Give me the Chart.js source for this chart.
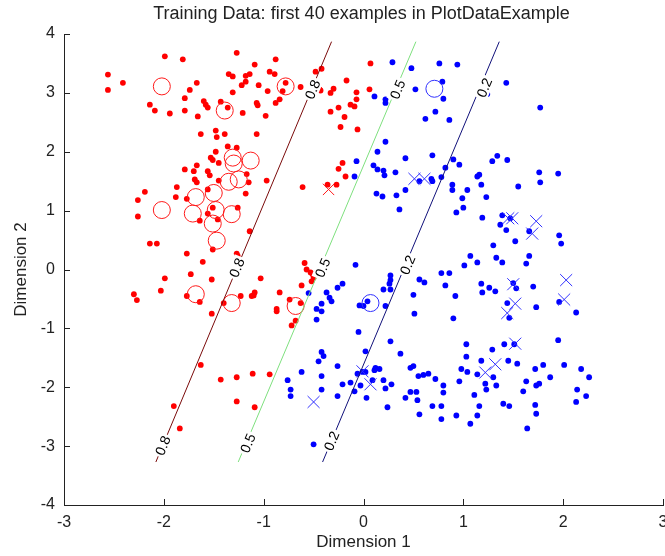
<!DOCTYPE html>
<html>
<head>
<meta charset="utf-8">
<title>Training Data</title>
<script src="https://cdn.jsdelivr.net/npm/chart.js@4.4.1/dist/chart.umd.min.js"></script>
<style>
    body { margin: 0; background: #fff; overflow: hidden; }
    #wrap { width: 680px; height: 556px; }
</style>
</head>
<body>
<div id="wrap"><canvas id="trainingChart" width="680" height="556"></canvas></div>
<script>
// Tick values on both axes
const xTicks = [-3, -2, -1, 0, 1, 2, 3];
const yTicks = [-4, -3, -2, -1, 0, 1, 2, 3, 4];

// Whole data set, class 1 (red dots)
const redDots = [
    [-1.99, 3.62], [-1.81, 3.57], [-2.56, 3.31], [-2.41, 3.17], [-2.56, 3.05], [-1.67, 3.17], [-1.74, 3.05],
    [-1.79, 2.91], [-1.60, 2.86], [-1.58, 2.80], [-1.56, 2.75], [-1.43, 2.85], [-2.14, 2.80], [-2.09, 2.70],
    [-1.94, 2.65], [-1.79, 2.70], [-1.66, 2.60], [-1.63, 2.30], [-1.48, 2.36], [-1.47, 2.25], [-1.39, 2.30],
    [-1.48, 2.00], [-1.53, 1.90], [-1.51, 1.86], [-1.45, 1.81], [-1.36, 2.09], [-1.67, 1.77], [-1.79, 1.70],
    [-1.70, 1.67], [-1.56, 1.67], [-1.54, 1.60], [-1.69, 1.53], [-1.67, 1.48], [-1.45, 1.51], [-1.87, 1.40],
    [-1.88, 1.23], [-2.19, 1.32], [-2.26, 1.18], [-2.26, 0.90], [-1.77, 1.20], [-1.56, 1.36], [-1.51, 1.05],
    [-1.56, 0.95], [-1.64, 0.83], [-1.46, 0.85], [-2.14, 0.44], [-2.07, 0.44], [-1.51, 0.34], [-1.77, 0.27],
    [-1.27, 3.68], [-0.88, 3.57], [-1.09, 3.48], [-1.35, 3.32], [-1.31, 3.28], [-1.18, 3.29], [-1.14, 3.32],
    [-0.94, 3.36], [-0.89, 3.32], [-1.18, 3.19], [-1.22, 3.13], [-1.05, 3.13], [-1.31, 3.01], [-0.96, 3.03],
    [-0.81, 3.03], [-0.78, 3.17], [-0.84, 2.89], [-0.88, 2.83], [-1.07, 2.83], [-1.06, 2.79], [-0.63, 3.10],
    [-0.48, 3.36], [-0.42, 3.41], [-0.44, 3.06], [-1.36, 2.75], [-1.21, 2.66], [-0.98, 2.61], [-1.07, 2.30],
    [-1.27, 2.07], [-1.17, 1.62], [-1.15, 1.48], [-0.97, 1.51], [-1.18, 1.29], [-1.26, 1.05], [-1.14, 0.65],
    [-1.27, 0.27], [-0.17, 3.21], [-0.30, 3.07], [-0.33, 3.00], [-0.07, 3.01], [-0.07, 2.89], [-0.13, 2.80],
    [-0.09, 2.77], [-0.25, 2.75], [-0.33, 2.68], [-0.19, 2.59], [-0.23, 2.42], [-0.06, 2.38], [-0.21, 1.81],
    [-0.25, 1.71], [-0.18, 1.58], [-0.36, 1.44], [-0.27, 1.44], [-0.61, 1.40], [-0.43, 3.04], [0.07, 3.50],
    [0.06, 3.06], [-1.61, 0.13], [-1.99, -0.15], [-1.73, -0.08], [-1.52, -0.17], [-2.30, -0.42], [-2.27, -0.52],
    [-2.03, -0.36], [-1.77, -0.45], [-1.64, -0.55], [-1.52, -0.75], [-1.40, -0.57], [-1.63, -1.62], [-1.43, -1.87],
    [-1.90, -2.32], [-1.84, -2.70], [-1.26, 0.23], [-1.03, -0.15], [-1.12, -0.45], [-1.10, -0.44], [-1.09, -0.39],
    [-1.23, -0.45], [-0.84, -0.39], [-0.87, -0.67], [-0.87, -0.71], [-0.74, -0.51], [-0.63, -0.57], [-0.62, -0.27],
    [-0.68, -0.87], [-0.72, -0.95], [-0.59, 0.11], [-0.57, 0.00], [-0.53, -0.05], [-0.51, -0.08], [-0.50, -0.14],
    [-0.52, -0.20], [-1.27, -1.83], [-1.11, -1.77], [-0.94, -1.78], [-1.27, -2.24], [-1.09, -2.34]
];

// Whole data set, class 2 (blue dots)
const blueDots = [
    [0.29, 3.52], [0.48, 3.42], [0.76, 3.50], [0.94, 3.48], [0.52, 3.06], [0.79, 3.19], [0.80, 2.90],
    [0.11, 2.94], [0.22, 2.89], [0.22, 2.83], [0.30, 2.94], [0.72, 2.68], [0.62, 2.56], [0.86, 2.54],
    [0.22, 2.17], [0.14, 2.00], [-0.07, 1.84], [0.42, 1.89], [0.69, 1.94], [0.10, 1.77], [0.14, 1.70],
    [0.20, 1.68], [0.21, 1.60], [0.32, 1.65], [-0.09, 1.58], [0.56, 1.50], [0.68, 1.54], [0.69, 1.50],
    [0.78, 1.57], [0.82, 1.73], [0.90, 1.87], [0.96, 1.78], [0.42, 1.35], [0.89, 1.44], [0.89, 1.35],
    [1.04, 1.35], [1.14, 1.58], [0.13, 1.29], [0.19, 1.24], [0.33, 1.26], [0.36, 1.02], [0.99, 1.21],
    [1.00, 1.05], [0.93, 0.97], [1.43, 3.17], [1.24, 2.98], [1.77, 2.75], [1.34, 1.93], [1.29, 1.84],
    [1.44, 1.86], [1.16, 1.61], [1.18, 1.44], [1.23, 1.23], [1.55, 1.41], [1.76, 1.65], [1.95, 1.63],
    [1.77, 1.48], [1.19, 0.88], [1.39, 0.92], [1.37, 0.76], [1.43, 0.67], [1.47, 0.87], [1.66, 0.65],
    [1.52, 0.48], [1.30, 0.41], [1.96, 0.58], [1.98, 0.44], [-0.08, 0.08], [0.27, -0.10], [0.27, -0.18],
    [0.26, -0.24], [0.20, -0.34], [0.27, -0.34], [-0.04, -0.61], [0.00, -0.62], [0.04, -0.54], [0.22, -0.62],
    [0.50, -0.43], [0.51, -0.75], [0.56, -0.17], [0.61, -0.22], [0.78, -0.06], [0.86, -0.06], [0.82, -0.27],
    [0.92, -0.45], [0.90, -0.83], [1.01, 0.07], [1.07, 0.23], [1.14, 0.12], [-0.05, -1.06], [0.27, -1.22],
    [0.02, -1.39], [0.37, -1.43], [0.12, -1.67], [0.16, -1.69], [0.11, -1.71], [-0.01, -1.74], [0.02, -1.74],
    [0.47, -1.67], [0.50, -1.64], [0.55, -1.81], [0.60, -1.79], [0.65, -1.77], [0.72, -1.86], [0.20, -1.88],
    [0.09, -1.88], [0.28, -1.95], [0.22, -2.02], [-0.03, -1.97], [-0.09, -2.07], [0.03, -2.18], [0.80, -1.97],
    [0.80, -2.09], [0.47, -2.08], [0.53, -2.08], [0.54, -2.22], [0.42, -2.18], [0.69, -2.32], [0.78, -2.32],
    [0.24, -2.34], [0.56, -2.46], [0.78, -2.54], [0.93, -2.48], [1.07, -2.62], [1.14, -2.48], [1.11, -2.13],
    [0.96, -1.90], [0.98, -1.69], [1.04, -1.74], [1.03, -1.27], [1.03, -1.48], [1.14, -1.78], [1.33, 0.20],
    [1.39, 0.12], [1.66, 0.23], [1.63, 0.10], [1.18, -0.24], [1.19, -0.39], [1.26, -0.31], [1.32, -0.37],
    [1.50, -0.23], [1.53, -0.32], [1.70, -0.29], [1.44, -0.57], [1.46, -0.82], [1.73, -0.64], [1.96, -0.55],
    [2.13, -0.73], [1.95, -1.20], [1.29, -1.36], [1.41, -1.27], [1.51, -1.27], [1.18, -1.55], [1.45, -1.55],
    [1.54, -1.60], [1.30, -1.83], [1.22, -1.94], [1.23, -2.04], [1.33, -1.97], [1.72, -1.69], [1.80, -1.62],
    [2.01, -1.62], [1.63, -1.90], [1.73, -1.97], [1.76, -1.94], [1.60, -2.07], [1.87, -1.83], [2.18, -1.69],
    [2.26, -1.83], [2.14, -2.04], [2.23, -2.15], [2.13, -2.25], [1.16, -2.32], [1.40, -2.28], [1.46, -2.32],
    [1.72, -2.30], [1.73, -2.45], [1.64, -2.70], [-0.55, -0.40], [-0.37, -0.39], [-0.34, -0.48], [-0.32, -0.54],
    [-0.26, -0.31], [-0.21, -0.24], [-0.42, -0.58], [-0.47, -0.67], [-0.42, -0.71], [-0.47, -0.85], [-0.42, -1.40],
    [-0.40, -1.47], [-0.45, -1.56], [-0.26, -1.64], [-0.62, -1.74], [-0.42, -1.81], [-0.76, -1.88], [-0.73, -2.04],
    [-0.73, -2.15], [-0.42, -2.04], [-0.21, -1.95], [-0.13, -1.92], [-0.06, -1.77], [-0.26, -2.15], [-0.50, -2.97]
];

// First 40 examples: circles and crosses
const redCircles = [
    [-2.02, 3.11], [-1.39, 2.70], [-0.78, 3.11], [-1.31, 1.90], [-1.30, 1.80], [-1.13, 1.85], [-1.35, 1.49],
    [-1.25, 1.53], [-1.68, 1.23], [-1.50, 1.30], [-2.02, 1.01], [-1.71, 0.95], [-1.48, 1.01], [-1.32, 0.94],
    [-1.51, 0.78], [-1.47, 0.49], [-1.68, -0.42], [-1.32, -0.57], [-0.68, -0.62]
];
const redCrosses = [[-0.35, 1.36]];
const blueCircles = [[0.71, 3.07], [0.07, -0.57]];
const blueCrosses = [
    [0.51, 1.54], [0.61, 1.54], [-0.50, -2.25], [-0.01, -1.73], [0.07, -1.95], [1.50, -0.25], [1.52, -0.58],
    [1.44, -0.74], [2.03, -0.18], [2.01, -0.51], [1.52, -1.26], [1.32, -1.61], [1.22, -1.75], [1.45, 0.87],
    [1.49, 0.87], [1.73, 0.82], [1.69, 0.61]
];

// Probability contours (level, start, end) and where their labels sit
const contourLevels = ['0.8', '0.5', '0.2'];
const contourStarts = [[-2.08, -3.27], [-1.255, -3.27], [-0.41, -3.27]];
const contourEnds = [[-0.32, 3.87], [0.525, 3.87], [1.36, 3.87]];
const labelLevels = ['0.8', '0.8', '0.8', '0.5', '0.5', '0.5', '0.2', '0.2', '0.2'];
const labelX = [-0.51, -1.27, -2.01, 0.34, -0.41, -1.16, 1.21, 0.44, -0.32];
const labelY = [3.06, 0.03, -2.99, 3.06, 0.03, -2.95, 3.09, 0.08, -2.91];

const chartTitle = 'Training Data: first 40 examples in PlotDataExample';
const FONT = '"Liberation Sans", Arial, Helvetica, sans-serif';
const toPoints = arr => arr.map(p => ({ x: p[0], y: p[1] }));

// MATLAB style ticks that point into the axes, and the title centred over the axes
const axesDecor = {
    id: 'axesDecor',
    afterDraw(chart) {
        const { ctx, chartArea, scales } = chart;
        ctx.save();
        ctx.strokeStyle = '#222';
        ctx.lineWidth = 1;
        ctx.beginPath();
        xTicks.forEach(v => {
            const px = Math.round(scales.x.getPixelForValue(v)) + 0.5;
            ctx.moveTo(px, chartArea.bottom);
            ctx.lineTo(px, chartArea.bottom - 6);
        });
        yTicks.forEach(v => {
            const py = Math.round(scales.y.getPixelForValue(v)) + 0.5;
            ctx.moveTo(chartArea.left, py);
            ctx.lineTo(chartArea.left + 6, py);
        });
        ctx.stroke();

        ctx.fillStyle = '#222';
        ctx.font = '18px ' + FONT;
        ctx.textAlign = 'center';
        ctx.textBaseline = 'middle';
        ctx.fillText(chartTitle, (chartArea.left + chartArea.right) / 2 - 2, 14);
        ctx.restore();
    }
};

// clabel style text written along each contour
const contourLabels = {
    id: 'contourLabels',
    afterDatasetsDraw(chart) {
        const { ctx, scales } = chart;
        ctx.save();
        ctx.font = '14px ' + FONT;
        ctx.textAlign = 'center';
        ctx.textBaseline = 'middle';
        labelLevels.forEach((level, i) => {
            const k = contourLevels.indexOf(level);
            const angle = Math.atan2(
                scales.y.getPixelForValue(contourEnds[k][1]) - scales.y.getPixelForValue(contourStarts[k][1]),
                scales.x.getPixelForValue(contourEnds[k][0]) - scales.x.getPixelForValue(contourStarts[k][0])
            );
            ctx.save();
            ctx.translate(scales.x.getPixelForValue(labelX[i]), scales.y.getPixelForValue(labelY[i]));
            ctx.rotate(angle);
            const w = ctx.measureText(level).width;
            ctx.fillStyle = '#fff';
            ctx.fillRect(-w / 2 - 2, -7, w + 4, 14);
            ctx.fillStyle = '#000';
            ctx.fillText(level, 0, 1);
            ctx.restore();
        });
        ctx.restore();
    }
};

const contourColors = ['#7a0a0a', '#7ee07e', '#10107a'];
const contourSets = contourLevels.map((level, k) => ({
    label: 'p = ' + level,
    data: toPoints([contourStarts[k], contourEnds[k]]),
    showLine: true,
    borderColor: contourColors[k],
    borderWidth: 1,
    pointRadius: 0
}));

function markerSet(label, points, style, radius, color, filled) {
    return {
        label: label,
        data: toPoints(points),
        pointStyle: style,
        pointRadius: radius,
        pointBackgroundColor: filled ? color : 'rgba(0,0,0,0)',
        pointBorderColor: color,
        pointBorderWidth: filled ? 0 : 1
    };
}

function renderChart() {
    const ctx = document.getElementById('trainingChart').getContext('2d');
    new Chart(ctx, {
        type: 'scatter',
        data: {
            datasets: contourSets.concat([
                markerSet('class 1 examples', redCircles, 'circle', 8.5, '#ff1a1a', false),
                markerSet('class 1 misfit', redCrosses, 'crossRot', 8, '#ff1a1a', false),
                markerSet('class 2 examples', blueCircles, 'circle', 8.5, '#3030ff', false),
                markerSet('class 2 misfit', blueCrosses, 'crossRot', 8.5, '#3030ff', false),
                markerSet('class 1', redDots, 'circle', 2.9, '#ff0000', true),
                markerSet('class 2', blueDots, 'circle', 2.9, '#0000ff', true)
            ])
        },
        options: {
            responsive: false,
            animation: false,
            devicePixelRatio: 1,
            layout: { padding: { left: 0, right: 17, top: 34, bottom: 0 } },
            plugins: {
                legend: { display: false },
                tooltip: { enabled: false },
                title: { display: false }
            },
            scales: {
                x: {
                    type: 'linear',
                    min: -3,
                    max: 3,
                    afterBuildTicks: scale => { scale.ticks = xTicks.map(v => ({ value: v })); },
                    afterFit: scale => { scale.height = 51; },
                    ticks: { color: '#222', font: { family: FONT, size: 16 }, padding: 8, maxRotation: 0, autoSkip: false },
                    grid: { display: false, drawTicks: false },
                    border: { display: true, color: '#222', width: 1 },
                    title: {
                        display: true,
                        text: 'Dimension 1',
                        color: '#222',
                        font: { family: FONT, size: 17 },
                        padding: { top: 0, bottom: 3 }
                    }
                },
                y: {
                    type: 'linear',
                    min: -4,
                    max: 4,
                    afterBuildTicks: scale => { scale.ticks = yTicks.map(v => ({ value: v })); },
                    afterFit: scale => { scale.width = 64; },
                    ticks: { color: '#222', font: { family: FONT, size: 16 }, padding: 9, autoSkip: false },
                    grid: { display: false, drawTicks: false },
                    border: { display: true, color: '#222', width: 1 },
                    title: {
                        display: true,
                        text: 'Dimension 2',
                        color: '#222',
                        font: { family: FONT, size: 17 },
                        padding: { top: 11, bottom: 0 }
                    }
                }
            }
        },
        plugins: [axesDecor, contourLabels]
    });
}

document.addEventListener('DOMContentLoaded', renderChart);
</script>
</body>
</html>
